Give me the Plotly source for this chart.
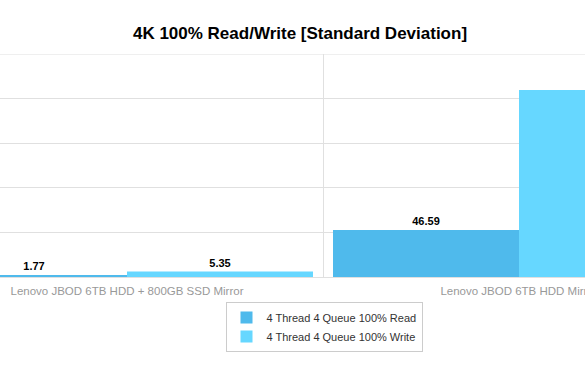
import plotly.graph_objects as go

categories = ["Lenovo JBOD 6TB HDD + 800GB SSD Mirror", "Lenovo JBOD 6TB HDD Mirror"]
read_values = [1.77, 46.59]
write_values = [5.35, 185.4]
series_names = ["4 Thread 4 Queue 100% Read", "4 Thread 4 Queue 100% Write"]
title_text = "4K 100% Read/Write [Standard Deviation]"

y_max = 221.1
grid_step = y_max / 5

W, H = 585, 373
T, B = 54, 96
plot_h = H - T - B

fig = go.Figure()
fig.add_trace(go.Bar(
    x=categories, y=read_values, name=series_names[0],
    marker=dict(color="#4FBAEC", line=dict(width=0)),
    text=[f"{v:.2f}" for v in read_values], textposition="outside",
    textfont=dict(family="Liberation Sans", size=11, color="#000000"),
    texttemplate="<b>%{text}</b>", cliponaxis=False,
))
fig.add_trace(go.Bar(
    x=categories, y=write_values, name=series_names[1],
    marker=dict(color="#66D7FF", line=dict(width=0)),
    text=[f"{v:.2f}" for v in write_values], textposition="outside",
    textfont=dict(family="Liberation Sans", size=11, color="#000000"),
    texttemplate="<b>%{text}</b>", cliponaxis=False,
))

fig.update_layout(
    width=W, height=H,
    margin=dict(l=0, r=0, t=T, b=B, pad=0, autoexpand=False),
    paper_bgcolor="white", plot_bgcolor="white",
    barmode="group", bargap=0.051, bargroupgap=0,
    font=dict(family="Liberation Sans", color="#333333"),
    title=dict(text=f"<b>{title_text}</b>", x=300/W, xanchor="center",
               y=1 - 33/H, yanchor="middle",
               font=dict(family="Liberation Sans", size=17, color="#000000")),
    xaxis=dict(
        type="category", range=[-127/392, (W-127)/392],
        tickson="boundaries", showgrid=True, gridcolor="#E0E0E0", gridwidth=1,
        ticks="", showline=False, zeroline=False, automargin=False,
        ticklabelstandoff=5,
        tickfont=dict(family="Liberation Sans", size=11.5, color="#999999"),
    ),
    yaxis=dict(
        range=[0, y_max], tickvals=[grid_step*i for i in range(6)],
        showticklabels=False, showgrid=True, gridcolor="#E0E0E0", gridwidth=1,
        zeroline=True, zerolinecolor="#E0E0E0", zerolinewidth=1, showline=False,
        automargin=False,
    ),
    legend=dict(
        orientation="v", x=324/W, xanchor="center",
        y=(H - B - 302) / plot_h, yanchor="top",
        bordercolor="#CCCCCC", borderwidth=1, bgcolor="white",
        font=dict(family="Liberation Sans", size=11, color="#333333"),
        tracegroupgap=0, itemwidth=30,
    ),
    showlegend=True,
)
# top border line of the plot area (gridline at the range maximum)
fig.add_shape(type="line", xref="paper", yref="y", x0=0, x1=1, y0=y_max, y1=y_max,
              line=dict(color="#E0E0E0", width=1), layer="below")

fig.write_html("out.html", config={"displayModeBar": False},
               post_script="document.body.style.margin='0';document.body.style.padding='0';")
